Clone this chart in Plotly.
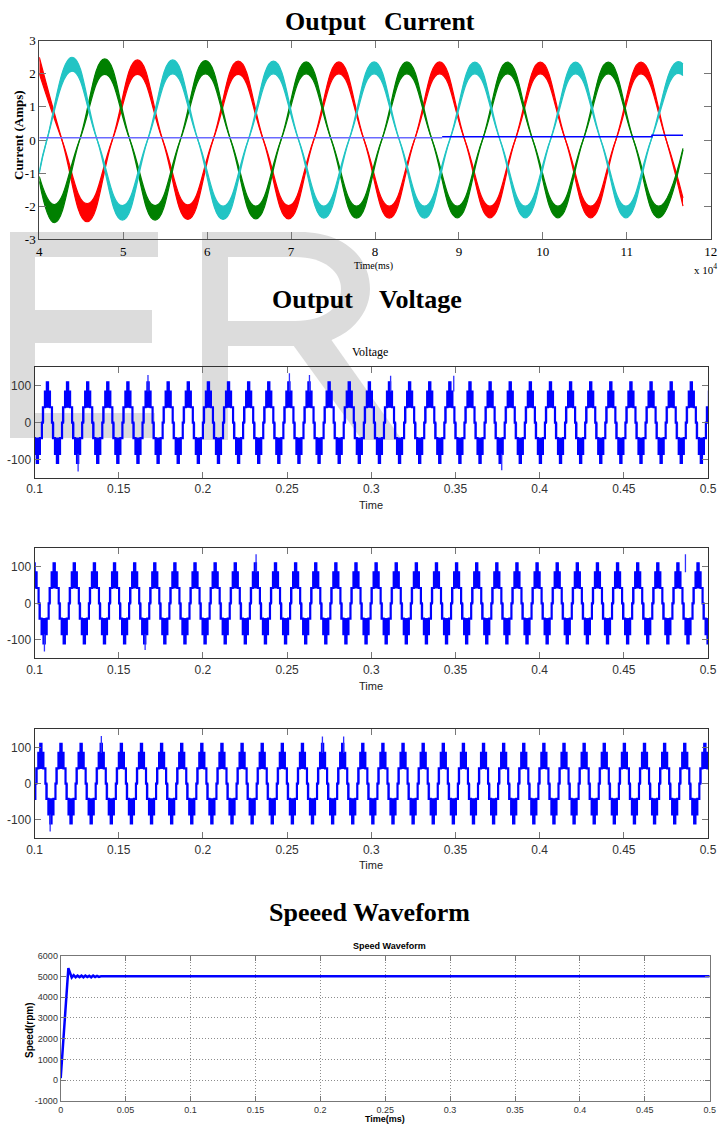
import numpy as np
import plotly.graph_objects as go

W, H = 728, 1125

# ---------------- Output Current (time in units of 1e4 ms) ----------------
cur_ticks = [4, 5, 6, 7, 8, 9, 10, 11, 12]
cur_yticks = [-3, -2, -1, 0, 1, 2, 3]

red_t = [4.00, 4.27, 4.57, 4.87, 5.17, 5.47, 5.77, 6.07, 6.37, 6.67, 6.97, 7.27, 7.57, 7.87,
         8.17, 8.47, 8.77, 9.07, 9.37, 9.67, 9.97, 10.27, 10.57, 10.87, 11.17, 11.47, 11.67]
red_outer = [2.50, 0, -2.47, 0, 2.42, 0, -2.40, 0, 2.38, 0, -2.38, 0, 2.36, 0,
             -2.36, 0, 2.36, 0, -2.35, 0, 2.35, 0, -2.35, 0, 2.35, 0, -2.00]
red_inner = [2.00, 0, -1.92, 0, 1.98, 0, -1.96, 0, 1.98, 0, -1.98, 0, 2.00, 0,
             -2.00, 0, 2.00, 0, -2.00, 0, 2.00, 0, -2.00, 0, 2.00, 0, -1.75]

cyan_t = [4.00, 4.09, 4.39, 4.69, 4.99, 5.29, 5.59, 5.89, 6.19, 6.49, 6.79, 7.09, 7.39, 7.69,
          7.99, 8.29, 8.59, 8.89, 9.19, 9.49, 9.79, 10.09, 10.39, 10.69, 10.99, 11.29, 11.59, 11.67]
cyan_outer = [-1.00, 0, 2.50, 0, -2.42, 0, 2.42, 0, -2.40, 0, 2.38, 0, -2.36, 0,
              2.36, 0, -2.36, 0, 2.35, 0, -2.35, 0, 2.35, 0, -2.35, 0, 2.35, 2.30]
cyan_inner = [-0.95, 0, 2.08, 0, -1.98, 0, 2.00, 0, -2.00, 0, 2.00, 0, -2.00, 0,
              2.00, 0, -2.00, 0, 2.00, 0, -2.00, 0, 2.00, 0, -2.00, 0, 2.00, 1.95]

green_t = [4.00, 4.18, 4.48, 4.78, 5.08, 5.38, 5.68, 5.98, 6.28, 6.58, 6.88, 7.18, 7.48, 7.78,
           8.08, 8.38, 8.68, 8.98, 9.28, 9.58, 9.88, 10.18, 10.48, 10.78, 11.08, 11.38, 11.67]
green_outer = [-1.25, -2.50, 0, 2.45, 0, -2.42, 0, 2.40, 0, -2.38, 0, 2.36, 0, -2.36,
               0, 2.36, 0, -2.35, 0, 2.35, 0, -2.35, 0, 2.35, 0, -2.35, -0.30]
green_inner = [-1.10, -1.95, 0, 1.98, 0, -1.98, 0, 2.00, 0, -2.00, 0, 2.00, 0, -2.00,
               0, 2.00, 0, -2.00, 0, 2.00, 0, -2.00, 0, 2.00, 0, -2.00, -0.25]

blue1_t, blue1_v = [4.0, 8.8], [0.07, 0.07]
blue2_t, blue2_v = [8.8, 11.3, 11.3, 11.67], [0.10, 0.10, 0.14, 0.14]

# ---------------- Output Voltage (three phases) ----------------
volt_xticks = [0.1, 0.15, 0.2, 0.25, 0.3, 0.35, 0.4, 0.45, 0.5]
volt_yticks = [-100, 0, 100]
volt_period = 0.01195
volt_phase = [0.0, 0.025, 0.125, 0.22, 0.28, 0.375, 0.475, 0.525, 0.625, 0.72, 0.78, 0.875, 0.975]
volt_level = [0, 42, 85, 110, 85, 42, 0, -42, -85, -110, -85, -42, 0]
volt_blocks = [(0.125, 0.375, 42, 85), (0.22, 0.28, 85, 110),
               (0.625, 0.875, -85, -42), (0.72, 0.78, -110, -85)]
volt_chatter = [(0.05, 0, 42), (0.07, 0, 42), (0.55, -42, 0), (0.57, -42, 0)]
volt_t0 = [0.1047, 0.1087, 0.1008]
volt_spike_t = [[0.1674, 0.2514, 0.2633, 0.3115, 0.3490, 0.1259, 0.3775],
                [0.2316, 0.4866, 0.1059, 0.1657],
                [0.1397, 0.2710, 0.2836, 0.1093]]
volt_spike_v = [[130, 135, 130, 128, 128, -133, -130],
                [135, 135, -132, -128],
                [132, 130, 130, -132]]

# ---------------- Speed ----------------
speed_t = [0, 0.0059, 0.0085, 0.0100, 0.0115, 0.0130, 0.0145, 0.0160, 0.0175, 0.0190,
           0.0205, 0.0220, 0.0235, 0.0250, 0.0265, 0.0280, 0.0295, 0.0310, 0.5]
speed_v = [100, 5400, 4950, 5060, 4960, 5040, 4970, 5040, 4960, 5040,
           4970, 5030, 4960, 5040, 4970, 5030, 4980, 5005, 5005]
speed_xticks = [0, 0.05, 0.1, 0.15, 0.2, 0.25, 0.3, 0.35, 0.4, 0.45, 0.5]
speed_yticks = [-1000, 0, 1000, 2000, 3000, 4000, 5000, 6000]


def px(x):
    return x / W


def py(y):
    return 1 - y / H


fig = go.Figure()

# current traces
for t, outer, inner, col in [(red_t, red_outer, red_inner, "#ff0000"),
                             (green_t, green_outer, green_inner, "#008000"),
                             (cyan_t, cyan_outer, cyan_inner, "#22c4c4")]:
    fig.add_trace(go.Scatter(x=t, y=inner, mode="lines", xaxis="x", yaxis="y",
                             line=dict(color=col, width=1.2, shape="spline", smoothing=1.3),
                             hoverinfo="skip"))
    fig.add_trace(go.Scatter(x=t, y=outer, mode="lines", xaxis="x", yaxis="y",
                             line=dict(color=col, width=1.2, shape="spline", smoothing=1.3),
                             fill="tonexty", fillcolor=col, hoverinfo="skip"))
fig.add_trace(go.Scatter(x=blue1_t, y=blue1_v, mode="lines", xaxis="x", yaxis="y",
                         line=dict(color="#6a6aff", width=1.5)))
fig.add_trace(go.Scatter(x=blue2_t, y=blue2_v, mode="lines", xaxis="x", yaxis="y",
                         line=dict(color="#0000ff", width=1.5)))

# voltage traces
for i, t0 in enumerate(volt_t0):
    ax = "x%d" % (i + 2)
    ay = "y%d" % (i + 2)
    kmin = int(np.floor((0.1 - t0) / volt_period)) - 1
    kmax = int(np.ceil((0.5 - t0) / volt_period)) + 1
    xs, ys, bx, by, cx, cy = [], [], [], [], [], []
    for k in range(kmin, kmax):
        base = t0 + k * volt_period
        for ph, lv in zip(volt_phase, volt_level):
            xs.append(base + ph * volt_period)
            ys.append(lv)
        for a, b, lo, hi in volt_blocks:
            xa, xb = base + a * volt_period, base + b * volt_period
            bx += [xa, xb, xb, xa, xa, None]
            by += [lo, lo, hi, hi, lo, None]
        for ph, lo, hi in volt_chatter:
            xc = base + ph * volt_period
            cx += [xc, xc, None]
            cy += [lo, hi, None]
    fig.add_trace(go.Scatter(x=cx, y=cy, mode="lines", xaxis=ax, yaxis=ay,
                             line=dict(color="#7070ff", width=1), hoverinfo="skip"))
    fig.add_trace(go.Scatter(x=xs, y=ys, mode="lines", xaxis=ax, yaxis=ay,
                             line=dict(color="#0000ff", width=2.2, shape="hv"), hoverinfo="skip"))
    fig.add_trace(go.Scatter(x=bx, y=by, mode="lines", xaxis=ax, yaxis=ay, fill="toself",
                             fillcolor="#0000ff", line=dict(color="#0000ff", width=1),
                             hoverinfo="skip"))
    sx, sy = [], []
    for st, sv in zip(volt_spike_t[i], volt_spike_v[i]):
        sx += [st, st, None]
        sy += [85 if sv > 0 else -85, sv, None]
    fig.add_trace(go.Scatter(x=sx, y=sy, mode="lines", xaxis=ax, yaxis=ay,
                             line=dict(color="#3030ff", width=1.3), hoverinfo="skip"))

# speed trace
fig.add_trace(go.Scatter(x=speed_t, y=speed_v, mode="lines", xaxis="x5", yaxis="y5",
                         line=dict(color="#0000ff", width=2.5)))

serif = "Liberation Serif"
sans = "Liberation Sans"


def axis(domain, rng, tickvals, ticktext, anchor, font, size, color="#000", grid=False,
         ticklen=6, linecolor="#444"):
    d = dict(domain=domain, range=rng, tickvals=tickvals, ticktext=ticktext, anchor=anchor,
             ticks="inside", ticklen=ticklen, tickcolor="#777", tickwidth=1,
             showline=True, linecolor=linecolor, linewidth=1, mirror="ticks",
             zeroline=False, showgrid=grid, tickfont=dict(family=font, size=size, color=color),
             fixedrange=True, automargin=False)
    if grid:
        d.update(gridcolor="#8c8c8c", griddash="1px,2px", gridwidth=1)
    return d


def fmt(v):
    return ("%g" % v)


layout = dict(
    width=W, height=H, autosize=False,
    margin=dict(l=0, r=0, t=0, b=0, pad=0, autoexpand=False),
    paper_bgcolor="white", plot_bgcolor="rgba(0,0,0,0)", showlegend=False,
    xaxis=axis([px(39.3), px(710.7)], [4, 12], cur_ticks, [fmt(v) for v in cur_ticks],
               "y", serif, 13, ticklen=7),
    yaxis=axis([py(239.3), py(40.7)], [-3, 3], cur_yticks, [fmt(v) for v in cur_yticks],
               "x", serif, 13, ticklen=7),
)
volt_doms = [(367.3, 478), (548.3, 658.3), (729, 838.3)]
for i, (top, bot) in enumerate(volt_doms):
    n = i + 2
    layout["xaxis%d" % n] = axis([px(34.5), px(708)], [0.1, 0.5], volt_xticks,
                                 [fmt(v) for v in volt_xticks], "y%d" % n, sans, 12, "#333",
                                 linecolor="#333")
    layout["yaxis%d" % n] = axis([py(bot), py(top)], [-151, 151], volt_yticks,
                                 [fmt(v) for v in volt_yticks], "x%d" % n, sans, 12, "#333",
                                 linecolor="#333")
layout["xaxis5"] = axis([px(60.7), px(709.7)], [0, 0.5], speed_xticks,
                        [fmt(v) for v in speed_xticks], "y5", sans, 9, "#333", grid=True,
                        ticklen=5, linecolor="#777")
layout["yaxis5"] = axis([py(1101), py(955.7)], [-1000, 6000], speed_yticks,
                        [fmt(v) for v in speed_yticks], "x5", sans, 9, "#333", grid=True,
                        ticklen=5, linecolor="#777")

ann = []


def add_text(text, x, y, family, size, bold=False, xanchor="center", angle=0, color="#000"):
    ann.append(dict(text=text, x=px(x), y=py(y), xref="paper", yref="paper", showarrow=False,
                    xanchor=xanchor, yanchor="middle", textangle=angle,
                    font=dict(family=family, size=size, color=color,
                              weight="bold" if bold else "normal")))


add_text("Output", 283, 22, serif, 26, True, "left")
add_text("Current", 382, 22, serif, 26, True, "left")
add_text("Current (Amps)", 18, 135, serif, 13, True, angle=-90)
add_text("Time(ms)", 374, 266, serif, 10)
add_text("x 10<sup>4</sup>", 705, 269, serif, 11)

add_text("Output", 270, 300, serif, 26, True, "left")
add_text("Voltage", 377, 300, serif, 26, True, "left")
add_text("Voltage", 370, 352, serif, 12)
for yy in [505, 686, 865]:
    add_text("Time", 371, yy, sans, 11, color="#222")

add_text("Speeed Waveform", 369.5, 912, serif, 26, True)
add_text("Speed Waveform", 389, 946, sans, 9, True)
add_text("Time(ms)", 385, 1119, sans, 9, True)
add_text("Speed(rpm)", 29, 1030, sans, 10, True, angle=-90)
layout["annotations"] = ann


# watermark letters (drawn below everything)
def path(cmds):
    out = []
    for c in cmds:
        if isinstance(c, str):
            out.append(c)
        else:
            out.append("%.5f,%.5f" % (px(c[0]), py(c[1])))
    return " ".join(out)


wm = "#dcdcdc"
E_path = path(["M", (10, 232), "L", (158, 232), "L", (158, 257), "L", (35, 257), "L", (35, 310),
               "L", (152, 310), "L", (152, 343), "L", (35, 343), "L", (35, 413), "L", (155, 413),
               "L", (155, 438), "L", (10, 438), "Z"])
R_path = path(["M", (202, 232), "L", (300, 232), "C", (345, 232), (370, 258), (370, 289),
               "C", (370, 318), (342, 346), (300, 346), "L", (228, 346), "L", (228, 440),
               "L", (202, 440), "Z"])
R_hole = path(["M", (228, 257), "L", (295, 257), "C", (325, 257), (341, 272), (341, 289),
               "C", (341, 307), (325, 321), (295, 321), "L", (228, 321), "Z"])
R_leg = path(["M", (288, 338), "L", (330, 338), "L", (402, 440), "L", (362, 440), "Z"])
shapes = []
for p, col in [(E_path, wm), (R_path, wm), (R_hole, "white"), (R_leg, wm)]:
    shapes.append(dict(type="path", path=p, xref="paper", yref="paper", layer="below",
                       fillcolor=col, line=dict(width=0)))
layout["shapes"] = shapes

fig.update_layout(**layout)
fig.write_html("out.html", config={"displayModeBar": False, "staticPlot": True},
               post_script="document.body.style.margin='0';document.body.style.padding='0';"
                           "document.body.style.overflow='hidden';")
